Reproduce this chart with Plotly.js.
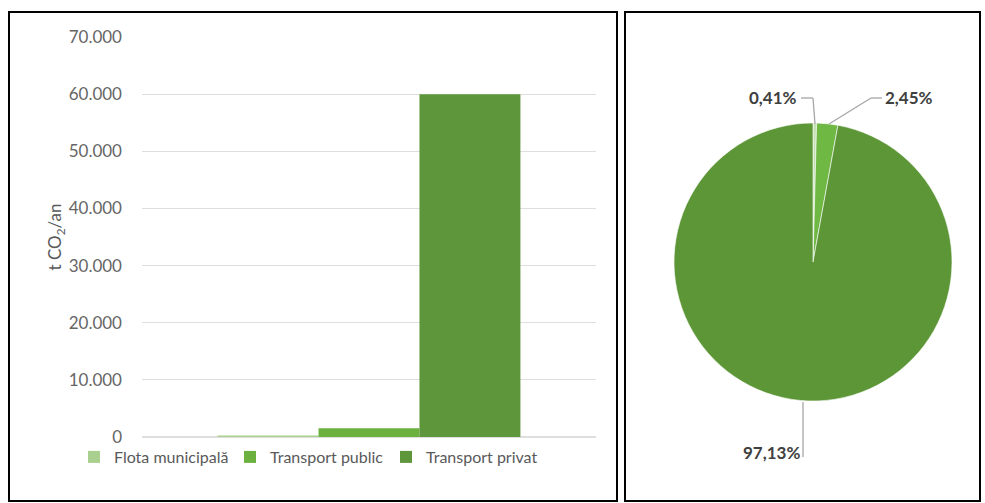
<!DOCTYPE html>
<html>
<head>
<meta charset="utf-8">
<script src="https://cdn.plot.ly/plotly-3.0.1.min.js"></script>
<style>
html,body{margin:0;padding:0;background:#fff;}
#chart{width:985px;height:503px;}
</style>
</head>
<body>
<div id="chart"></div>
<script>
// ---- data ----
var categories = ['Flota municipală', 'Transport public', 'Transport privat'];
var emissions = [256, 1516, 60000];            // t CO2/an
var yTicks = [0, 10000, 20000, 30000, 40000, 50000, 60000, 70000];
var barColors = ['#a9d08e', '#6cb13f', '#5e973b'];
var pieColors = ['#c5e0b4', '#70b844', '#5c9637'];

// ---- helpers: pixel -> paper (margins are zero) ----
var W = 985, H = 503;
function px(x){ return x / W; }
function py(y){ return 1 - y / H; }

var traces = [];
for (var i = 0; i < categories.length; i++) {
  traces.push({
    type: 'bar',
    name: categories[i],
    x: [0],
    y: [emissions[i]],
    marker: {color: barColors[i], line: {width: 0}},
    xaxis: 'x', yaxis: 'y',
    hoverinfo: 'name+y'
  });
}
traces.push({
  type: 'pie',
  labels: categories,
  values: emissions,
  sort: false,
  direction: 'clockwise',
  rotation: 0,
  marker: {colors: pieColors, line: {color: '#ffffff', width: 0.6}},
  textinfo: 'none',
  showlegend: false,
  domain: {x: [px(673), px(953)], y: [py(401), py(123)]}
});

var total = emissions.reduce(function(a, b){ return a + b; }, 0);
function pct(v){ return (v / total * 100).toFixed(2).replace('.', ',') + '%'; }

var labelFont = {family: 'Lato, "Open Sans", sans-serif', size: 17, color: '#404040'};
var annotations = [
  {text: '<b>' + pct(emissions[0]) + '</b>', xref: 'paper', yref: 'paper', x: px(799), y: py(97), xanchor: 'right', yanchor: 'middle', showarrow: false, font: labelFont},
  {text: '<b>' + pct(emissions[1]) + '</b>', xref: 'paper', yref: 'paper', x: px(883), y: py(97), xanchor: 'left', yanchor: 'middle', showarrow: false, font: labelFont},
  {text: '<b>' + pct(emissions[2]) + '</b>', xref: 'paper', yref: 'paper', x: px(802), y: py(452), xanchor: 'right', yanchor: 'middle', showarrow: false, font: labelFont}
];

var lc = {color: '#a6a6a6', width: 1.3};
function seg(x0, y0, x1, y1, line){
  return {type: 'line', xref: 'paper', yref: 'paper', x0: px(x0), y0: py(y0), x1: px(x1), y1: py(y1), line: line};
}
var border = {color: '#000000', width: 2};
var shapes = [
  // panel frames
  {type: 'rect', xref: 'paper', yref: 'paper', x0: px(9), y0: py(501), x1: px(617), y1: py(12), line: border},
  {type: 'rect', xref: 'paper', yref: 'paper', x0: px(625), y0: py(501), x1: px(980), y1: py(12), line: border},
  // leader lines
  seg(801, 98, 813, 98, lc), seg(813, 98, 815, 124, lc),
  seg(882, 98, 871, 98, lc), seg(871, 98, 829, 124, lc),
  seg(803, 402, 803, 457, lc)
];

var layout = {
  width: W, height: H,
  margin: {l: 0, r: 0, t: 0, b: 0},
  paper_bgcolor: '#ffffff',
  plot_bgcolor: '#ffffff',
  separators: ',.',
  barmode: 'group',
  bargap: 0.333,
  bargroupgap: 0,
  font: {family: 'Lato, "Open Sans", sans-serif', color: '#595959'},
  xaxis: {
    domain: [px(142), px(596)],
    range: [-0.5, 0.5],
    showticklabels: false, showgrid: false, zeroline: false, ticks: '', fixedrange: true
  },
  yaxis: {
    domain: [py(437), py(37)],
    range: [0, 70000],
    tickvals: yTicks,
    tickformat: ',d',
    showgrid: true, gridcolor: '#dedede', gridwidth: 1.2,
    zeroline: true, zerolinecolor: '#dedede', zerolinewidth: 1.2,
    showline: false, ticks: '',
    ticklabelstandoff: 19,
    tickfont: {size: 17, color: '#666666'},
    title: {text: 't CO<sub>2</sub>/an', font: {size: 17, color: '#595959'}, standoff: 2}
  },
  legend: {
    orientation: 'h',
    x: px(74), xanchor: 'left',
    y: py(457), yanchor: 'middle',
    font: {size: 16, color: '#595959'},
    itemwidth: 30,
    entrywidth: 111,
    entrywidthmode: 'pixels',
    traceorder: 'normal',
    bgcolor: 'rgba(0,0,0,0)'
  },
  showlegend: true,
  annotations: annotations,
  shapes: shapes
};

Plotly.newPlot('chart', traces, layout, {displayModeBar: false, staticPlot: true});
</script>
</body>
</html>
